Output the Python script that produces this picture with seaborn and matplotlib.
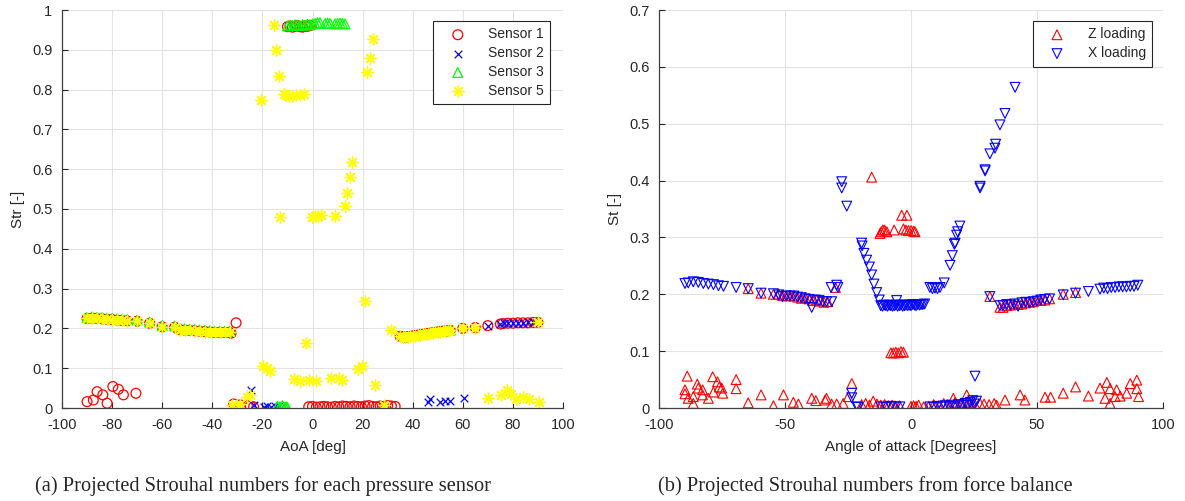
import numpy as np
import pandas as pd
import matplotlib
matplotlib.use("Agg")
import matplotlib.pyplot as plt
import seaborn as sns

# ---------------- data: left panel (pressure sensors) ----------------
band_neg_x = [-90, -88, -86, -84, -82, -80, -78, -76, -74, -70, -65, -60, -55, -53, -51, -49,
              -47, -45, -43, -41, -39, -37, -35, -33]
band_neg_y = [0.225, 0.226, 0.225, 0.224, 0.223, 0.222, 0.221, 0.220, 0.219, 0.218, 0.213, 0.204,
              0.203, 0.197, 0.196, 0.195, 0.194, 0.193, 0.192, 0.191, 0.190, 0.190, 0.190, 0.190]
band_pos_x = [35, 36, 37, 38, 39, 40, 41, 42, 43, 44, 45, 46, 47, 48, 49, 50, 51, 52, 53, 54, 55,
              60, 65, 70, 75, 76, 78, 80, 82, 84, 86, 88, 90]
band_pos_y = [0.180, 0.179, 0.178, 0.179, 0.180, 0.181, 0.182, 0.183, 0.184, 0.185, 0.186, 0.187,
              0.188, 0.189, 0.190, 0.191, 0.192, 0.193, 0.193, 0.194, 0.195, 0.200, 0.202, 0.207,
              0.211, 0.212, 0.213, 0.213, 0.214, 0.214, 0.214, 0.215, 0.215]

s1_extra_x = [-32.5, -30.5, -90, -87.5, -86, -83.7, -82, -79.7, -77.5, -75.5, -70.5,
              -31.5, -28.8, -26, -24.8, -23.5,
              -10, -9, -8, -7, -6, -5, -4, -3, -2, -1,
              -1.5, 0, 1.5, 3, 4.5, 6, 7.5, 9, 10.5, 12, 13.5, 15, 16.5, 18, 19.5, 21, 22.5, 24,
              25.5, 27, 28.5, 30, 31.5, 33]
s1_extra_y = [0.188, 0.214, 0.016, 0.020, 0.041, 0.033, 0.012, 0.054, 0.047, 0.033, 0.037,
              0.010, 0.008, 0.006, 0.005, 0.003,
              0.958, 0.960, 0.957, 0.959, 0.961, 0.958, 0.957, 0.960, 0.959, 0.961,
              0.003, 0.004, 0.002, 0.003, 0.004, 0.003, 0.002, 0.004, 0.003, 0.005, 0.004, 0.003,
              0.005, 0.004, 0.003, 0.005, 0.006, 0.004, 0.003, 0.005, 0.004, 0.006, 0.005, 0.004]
sensor1_x = band_neg_x + s1_extra_x + band_pos_x
sensor1_y = band_neg_y + s1_extra_y + band_pos_y

sensor2_x = [-24.5, -23.5, -19.5, -18, -16.5, -15, -13.5, 46, 47, 51, 53, 55, 60.5,
             70, 75, 76.5, 78, 80, 82, 84, 86, 88, 90]
sensor2_y = [0.045, 0.008, 0.003, 0.004, 0.003, 0.005, 0.004, 0.016, 0.022, 0.016, 0.018, 0.018,
             0.024, 0.207, 0.212, 0.213, 0.213, 0.214, 0.214, 0.214, 0.215, 0.215, 0.215]

sensor3_x = band_neg_x + [-14, -13, -12, -11, -10.5, -10,
                          -10, -9, -8, -7, -6, -5, -4, -3, -2, -1, 0, 1, 2, 3, 5, 6, 7, 9, 10, 11, 12, 13,
                          45, 48, 50, 53, 55]
sensor3_y = [v + 0.003 for v in band_neg_y] + [0.004, 0.003, 0.006, 0.002, 0.003, 0.001,
             0.960, 0.962, 0.961, 0.963, 0.962, 0.961, 0.963, 0.962, 0.964, 0.963, 0.965, 0.966,
             0.968, 0.968, 0.966, 0.967, 0.966, 0.965, 0.966, 0.967, 0.966, 0.965,
             0.187, 0.190, 0.192, 0.194, 0.196]

s5_extra_x = [-32.1, -28.8, -26.1, -24.8, -20.5, -19.7, -18.1, -17.1, -15.5, -14.4, -13.5, -12.8,
              -11.5, -10.5, -9.5, -8, -6.5, -5, -3.5, -7.5, -5.1, -2.4, -1.5, 1.2,
              -0.1, 1, 2, 3.5, 8.9, 12.9, 13.9, 14.8, 15.7, 7.2, 10.5, 11.9, 18.1, 19.9, 20.8,
              21.9, 22.8, 24.1, 24.8, 28.5, 31.2,
              69.9, 75.2, 77.6, 79.2, 81.2, 83.9, 86.5, 90.5]
s5_extra_y = [0.008, 0.010, 0.028, 0.033, 0.774, 0.105, 0.100, 0.094, 0.962, 0.900, 0.835, 0.479,
              0.790, 0.786, 0.784, 0.785, 0.786, 0.786, 0.790, 0.074, 0.068, 0.163, 0.070, 0.068,
              0.480, 0.482, 0.483, 0.484, 0.482, 0.508, 0.541, 0.581, 0.619, 0.076, 0.075, 0.070,
              0.097, 0.105, 0.270, 0.843, 0.879, 0.926, 0.058, 0.008, 0.196,
              0.024, 0.033, 0.045, 0.034, 0.023, 0.028, 0.022, 0.016]
sensor5_x = band_neg_x + s5_extra_x + band_pos_x[:23] + [90]
sensor5_y = band_neg_y + s5_extra_y + band_pos_y[:23] + [0.215]

left_xticks = [-100, -80, -60, -40, -20, 0, 20, 40, 60, 80, 100]
left_yticks = [0, 0.1, 0.2, 0.3, 0.4, 0.5, 0.6, 0.7, 0.8, 0.9, 1]
left_labels = ["Sensor 1", "Sensor 2", "Sensor 3", "Sensor 5"]

# ---------------- data: right panel (force balance) ----------------
xload_x = [-89.7, -88.4, -86.4, -84.4, -82.4, -80.4, -78.4, -76.4, -74.4, -69.4, -64.6, -59.5,
           -54.6, -52.5, -51, -49.5, -48, -46.5, -45, -43.5, -42, -40.5, -39.4, -38, -36.5, -35,
           -33.5, -31.7, -31.5, -29.5, -29,
           -27.5, -27.5, -25.5,
           -19.6, -19.4, -18.7, -17.6, -16.5, -15.6, -14.7, -13.6, -12.6,
           -12, -11.3, -10.6, -10, -9.3, -8.6, -8, -7.3, -6.6, -6, -5.3, -4.6, -4, -3.3, -2.6,
           -2, -1.3, -0.6, 0, 0.7, 1.4, 2, 2.7, 3.4, 4, 4.7, 5.4, -5.7,
           7.5, 8.5, 9.5, 10.5, 11.5, 13.2, 15.5, 16.4, 17.2, 17.5, 18.1, 18.5, 19.4,
           27.4, 27.4, 29.4, 29.4, 31.3, 33.3, 33.6, 35.3, 37.3, 41.3,
           -23.5, -23.5, -21.5, -21, -12, -10, -8, -6, -4.4, 7.5, 9, 10.5, 12, 13.5, 15, 16,
           17.5, 19, 20, 21.5, 22.5, 23.5, 24.5, 25, 26, 25.4,
           31.3, 35.3, 36.5, 38, 39.5, 41, 42.5, 44, 45.5, 47, 48.5, 50, 51.5, 53, 55, 60.4,
           65.3, 70.4, 75, 76.5, 78, 79.5, 81, 82.5, 84, 85.5, 87, 88.5, 90]
xload_y = [0.219, 0.220, 0.222, 0.221, 0.219, 0.218, 0.217, 0.215, 0.214, 0.212, 0.210, 0.202,
           0.201, 0.199, 0.196, 0.197, 0.197, 0.197, 0.195, 0.194, 0.192, 0.191, 0.177, 0.190,
           0.189, 0.187, 0.187, 0.212, 0.187, 0.216, 0.212,
           0.398, 0.387, 0.355,
           0.290, 0.285, 0.272, 0.260, 0.248, 0.234, 0.218, 0.203, 0.190,
           0.180, 0.179, 0.181, 0.180, 0.179, 0.181, 0.180, 0.179, 0.180, 0.181, 0.179, 0.180,
           0.181, 0.179, 0.180, 0.181, 0.180, 0.181, 0.180, 0.182, 0.181, 0.180, 0.182, 0.181,
           0.182, 0.182, 0.183, 0.189,
           0.212, 0.210, 0.211, 0.210, 0.212, 0.220, 0.251, 0.268, 0.288, 0.290, 0.304, 0.310,
           0.320, 0.390, 0.387, 0.419, 0.417, 0.447, 0.457, 0.464, 0.498, 0.518, 0.564,
           0.026, 0.018, 0.002, 0.001, 0.002, 0.001, 0.003, 0.002, 0.002, 0.002, 0.001, 0.003,
           0.002, 0.004, 0.003, 0.005, 0.002, 0.006, 0.004, 0.008, 0.005, 0.010, 0.013, 0.007,
           0.012, 0.056,
           0.196, 0.180, 0.180, 0.182, 0.181, 0.183, 0.179, 0.185, 0.186, 0.185, 0.187, 0.188,
           0.190, 0.191, 0.192, 0.199, 0.202, 0.205, 0.209, 0.211, 0.210, 0.212, 0.212, 0.213,
           0.213, 0.213, 0.214, 0.214, 0.216]

zload_x = [-88.8, -89.7, -89.7, -88.4, -86.4, -86.4, -84.8, -84.4, -82.7, -82.7, -80.4, -78.7,
           -76.8, -78.4, -76.1, -74.7, -75.1, -69.4, -69.4, -64.6, -59.5, -54.6, -50.6, -46.7,
           -44.7, -39.4, -37.8, -33.5,
           -64.6, -59.5, -54.6, -52.5, -51, -49.5, -48, -46.5, -45, -43.5, -42, -40.5, -39, -37.5,
           -36, -34.5, -33, -30,
           -15.6, -12.3, -11.8, -11.2, -10.5, -9.6, -6.7, -3.7, -1.6, -3, -2, -1, 0, 1, 1.6,
           -8, -7, -6, -5, -4, -3,
           -34.1, -31.5, -29.5, -26.9, -23.5, -24.9, -19.6, -18, -16.5, -15, -13.5, -12, -10.5,
           -9, -7.5, -6, -4.5, 0, 1, 2, 3, 5, 7, 9, 11, 13, 14.5, 16.8, 17.5, 19, 20, 22.1, 23,
           24, 25.5, 27.4, 29, 31, 33, 34, 37.3, 43.3, 45.2, 53.2, 55.4, 60.4, 65.3, 70.4, 75,
           77.7, 77, 79, 79, 81.6, 81, 83, 85.6, 87, 89.6, 89.6, 90.3,
           31.3, 35.3, 36.5, 38, 39.5, 41, 42.5, 44, 45.5, 47, 48.5, 50, 51.5, 53, 55, 60.4, 65.3]
zload_y = [0.056, 0.032, 0.025, 0.017, 0.008, 0.020, 0.042, 0.035, 0.032, 0.023, 0.017, 0.055,
           0.046, 0.028, 0.037, 0.026, 0.035, 0.050, 0.034, 0.009, 0.023, 0.004, 0.023, 0.010,
           0.007, 0.017, 0.013, 0.017,
           0.210, 0.202, 0.200, 0.200, 0.198, 0.197, 0.198, 0.197, 0.195, 0.193, 0.194, 0.192,
           0.189, 0.190, 0.188, 0.186, 0.187, 0.212,
           0.406, 0.307, 0.310, 0.313, 0.313, 0.310, 0.313, 0.339, 0.339, 0.315, 0.313, 0.312,
           0.312, 0.311, 0.310,
           0.097, 0.097, 0.098, 0.097, 0.099, 0.098,
           0.014, 0.007, 0.007, 0.008, 0.043, 0.020, 0.006, 0.008, 0.005, 0.012, 0.007, 0.005,
           0.006, 0.004, 0.005, 0.003, 0.004, 0.003, 0.004, 0.003, 0.005, 0.002, 0.003, 0.006,
           0.004, 0.008, 0.006, 0.017, 0.010, 0.005, 0.009, 0.023, 0.010, 0.006, 0.005, 0.008,
           0.007, 0.006, 0.008, 0.005, 0.014, 0.023, 0.014, 0.019, 0.019, 0.026, 0.037, 0.021,
           0.035, 0.045, 0.017, 0.008, 0.034, 0.032, 0.020, 0.021, 0.026, 0.043, 0.049, 0.034,
           0.020,
           0.196, 0.177, 0.177, 0.180, 0.181, 0.183, 0.182, 0.183, 0.185, 0.186, 0.187, 0.190,
           0.189, 0.190, 0.192, 0.200, 0.203]

right_xticks = [-100, -50, 0, 50, 100]
right_yticks = [0, 0.1, 0.2, 0.3, 0.4, 0.5, 0.6, 0.7]
right_labels = ["Z loading", "X loading"]

# ---------------- figure ----------------
sns.set_theme(style="whitegrid")
plt.rcParams["font.family"] = ["Liberation Sans", "DejaVu Sans"]

fig = plt.figure(figsize=(11.85, 5.01), dpi=100)
axL = fig.add_axes([62 / 1185, 1 - 408 / 501, 501 / 1185, 398 / 501])
axR = fig.add_axes([659 / 1185, 1 - 408 / 501, 504 / 1185, 398 / 501])

asterisk = (8, 2, 0)

sns.scatterplot(x=sensor1_x, y=sensor1_y, marker="o", s=50, facecolor="none",
                edgecolor="#ff0000", linewidth=0.9, label=left_labels[0], ax=axL)
sns.scatterplot(x=sensor2_x, y=sensor2_y, marker="x", s=30, color="#0000ff",
                linewidth=0.9, label=left_labels[1], ax=axL)
sns.scatterplot(x=sensor3_x, y=sensor3_y, marker="^", s=50, facecolor="none",
                edgecolor="#00ff00", linewidth=0.9, label=left_labels[2], ax=axL)
sns.scatterplot(x=sensor5_x, y=sensor5_y, marker=asterisk, s=60, color="#ffff00",
                linewidth=1.0, label=left_labels[3], ax=axL)

sns.scatterplot(x=zload_x, y=zload_y, marker="^", s=50, facecolor="none",
                edgecolor="#ff0000", linewidth=0.8, label=right_labels[0], ax=axR)
sns.scatterplot(x=xload_x, y=xload_y, marker="v", s=50, facecolor="none",
                edgecolor="#0000ff", linewidth=0.8, label=right_labels[1], ax=axR)

axis_col = "#262626"
for ax, xt, yt, ylim in [(axL, left_xticks, left_yticks, (0, 1)),
                         (axR, right_xticks, right_yticks, (0, 0.7))]:
    ax.set_xlim(-100, 100)
    ax.set_ylim(*ylim)
    ax.set_xticks(xt)
    ax.set_yticks(yt)
    ax.set_xticklabels([f"{v:g}" for v in xt])
    ax.set_yticklabels([f"{v:g}" for v in yt])
    ax.grid(True, color="#e3e3e3", linewidth=0.8)
    ax.set_axisbelow(True)
    for side in ["top", "right"]:
        ax.spines[side].set_visible(False)
    for side in ["left", "bottom"]:
        ax.spines[side].set_color("#404040")
        ax.spines[side].set_linewidth(0.9)
    ax.tick_params(direction="in", length=4, width=0.8, colors=axis_col, labelsize=10.5,
                   left=True, bottom=True)
    ax.tick_params(axis="x", pad=7)
    ax.tick_params(axis="y", pad=7)
    ax.set_facecolor("white")

axL.set_xlabel("AoA [deg]", fontsize=11, color=axis_col, labelpad=6)
axL.set_ylabel("Str [-]", fontsize=11, color=axis_col, labelpad=5)
axR.set_xlabel("Angle of attack [Degrees]", fontsize=11, color=axis_col, labelpad=6)
axR.set_ylabel("St [-]", fontsize=11, color=axis_col, labelpad=5)

legL = axL.legend(loc="upper right", bbox_to_anchor=(0.975, 0.972), borderaxespad=0,
                  fontsize=10, frameon=True, fancybox=False, framealpha=1,
                  edgecolor="#262626", handlelength=2.6, handletextpad=0.9,
                  labelspacing=0.35, borderpad=0.45)
legR = axR.legend(loc="upper right", bbox_to_anchor=(0.978, 0.972), borderaxespad=0,
                  fontsize=10, frameon=True, fancybox=False, framealpha=1,
                  edgecolor="#262626", handlelength=2.6, handletextpad=0.9,
                  labelspacing=0.35, borderpad=0.45)
for leg in (legL, legR):
    leg.get_frame().set_linewidth(0.8)

fig.text(263 / 1185, 1 - 486 / 501, "(a) Projected Strouhal numbers for each pressure sensor",
         ha="center", va="center", fontsize=14.7, family=["Liberation Serif", "DejaVu Serif"])
fig.text(865 / 1185, 1 - 486 / 501, "(b) Projected Strouhal numbers from force balance",
         ha="center", va="center", fontsize=14.7, family=["Liberation Serif", "DejaVu Serif"])

fig.savefig("out.png", dpi=100, facecolor="white")
